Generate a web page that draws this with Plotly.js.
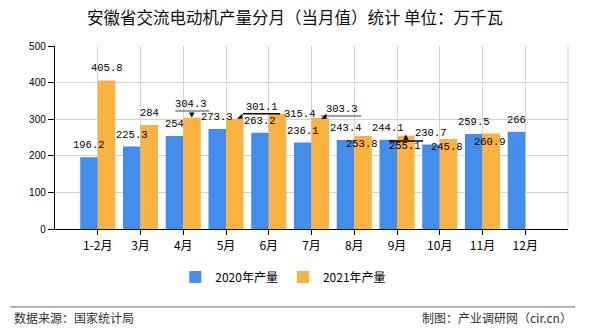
<!DOCTYPE html>
<html>
<head>
<meta charset="utf-8">
<script src="https://cdn.plot.ly/plotly-3.0.1.min.js"></script>
<style>html,body{margin:0;padding:0;background:#fff;}#chart{width:590px;height:330px;}</style>
</head>
<body>
<div id="chart"></div>
<script>
// ---- data ----
const categories = ['1-2月','3月','4月','5月','6月','7月','8月','9月','10月','11月','12月'];
const values2020 = [196.2, 225.3, 254, 273.3, 263.2, 236.1, 243.4, 244.1, 230.7, 259.5, 266];
const values2021 = [405.8, 284, 304.3, 301.1, 315.4, 303.3, 253.8, 255.1, 245.8, 260.9, null];
const seriesNames = ['2020年产量', '2021年产量'];
const yTicks = [0, 100, 200, 300, 400, 500];

// ---- styling / label placement (pixels) ----
const blue = '#438EEC', orange = '#FBB240';
const labelFont = {family: 'Liberation Mono, monospace', size: 10.5, color: '#000'};
const shift2020 = {};
const shift2021 = {2:[7.75,14], 3:[36,12], 4:[31.25,0], 5:[30.5,9], 6:[7.75,-8], 7:[8,-10.5], 8:[7.25,-8], 9:[7.5,-8]};
const callouts = [
  {i:2, x0:-8,  x1:26,   dy:6.6,  color:'#808080', tri:'▼', tx:9,    ty:2.6},
  {i:3, x0:17,  x1:54,   dy:5,    color:'#000',    tri:'◢', tx:14,   ty:3},
  {i:5, x0:9.5, x1:49.5, dy:2,    color:'#808080', tri:'◢', tx:12.5, ty:1.5},
  {i:7, x0:-8,  x1:26,   dy:-5.4, color:'#000',    tri:'▲', tx:9,    ty:-1.8}
];

const traces = [
  {type:'bar', name:seriesNames[0], x:categories, y:values2020, marker:{color:blue}, hoverinfo:'skip'},
  {type:'bar', name:seriesNames[1], x:categories, y:values2021, marker:{color:orange}, hoverinfo:'skip'}
];

const annotations = [];
values2020.forEach((v, i) => {
  if (v == null) return;
  const s = shift2020[i] || [-8.75, 12];
  annotations.push({x:categories[i], y:v, xref:'x', yref:'y', text:String(v), showarrow:false,
    xshift:s[0], yshift:s[1], xanchor:'center', yanchor:'middle', font:labelFont});
});
values2021.forEach((v, i) => {
  if (v == null) return;
  const s = shift2021[i] || [8.75, 12];
  annotations.push({x:categories[i], y:v, xref:'x', yref:'y', text:String(v), showarrow:false,
    xshift:s[0], yshift:s[1], xanchor:'center', yanchor:'middle', font:labelFont});
});

const shapes = [];
callouts.forEach(c => {
  shapes.push({type:'line', xref:'x', yref:'y', xsizemode:'pixel', ysizemode:'pixel',
    xanchor:categories[c.i], yanchor:values2021[c.i], x0:c.x0, x1:c.x1, y0:c.dy, y1:c.dy,
    line:{color:c.color, width:1.5}});
  annotations.push({x:categories[c.i], y:values2021[c.i], xref:'x', yref:'y', text:c.tri, showarrow:false,
    xshift:c.tx, yshift:c.ty, xanchor:'center', yanchor:'middle',
    font:{family:'DejaVu Sans', size:7, color:'#000'}});
});

// right border of plot (grid colour) and footer separator
shapes.push({type:'line', xref:'paper', yref:'paper', x0:1, x1:1, y0:0, y1:1, line:{color:'#d3d3d3', width:1}});
shapes.push({type:'line', xref:'paper', yref:'paper', x0:-0.0877, x1:1.0136, y0:-0.426, y1:-0.426, line:{color:'#888', width:1.2}});

annotations.push({xref:'paper', yref:'paper', x:-0.0838, y:-0.481, xanchor:'left', yanchor:'middle',
  text:'数据来源：国家统计局', showarrow:false, font:{family:'Noto Sans CJK SC', size:12, color:'#333'}});
annotations.push({xref:'paper', yref:'paper', x:1.0117, y:-0.481, xanchor:'right', yanchor:'middle',
  text:'制图：产业调研网（cir.cn）', showarrow:false, font:{family:'Noto Sans CJK SC', size:12, color:'#333'}});

const layout = {
  width:590, height:330,
  margin:{l:55, r:22, t:46, b:101},
  paper_bgcolor:'#fff', plot_bgcolor:'#fff',
  font:{family:'Noto Sans CJK SC', color:'#000'},
  title:{text:'安徽省交流电动机产量分月（当月值）统计 单位：万千瓦', x:0.5, xref:'container', y:0.945, yref:'container',
    xanchor:'center', yanchor:'middle', font:{family:'Noto Sans CJK SC', size:16.5, color:'#111'}},
  barmode:'group', bargap:0.18, bargroupgap:0,
  xaxis:{type:'category', range:[-1, categories.length], showgrid:true, gridcolor:'#d3d3d3', gridwidth:1,
    showline:true, linecolor:'#000', linewidth:1.2, ticks:'outside', ticklen:5, tickcolor:'#000',
    tickfont:{family:'Noto Sans CJK SC', size:12, color:'#000'}, fixedrange:true, zeroline:false},
  yaxis:{range:[0, 500], tickvals:yTicks, showgrid:true, gridcolor:'#d3d3d3', gridwidth:1,
    showline:true, linecolor:'#000', linewidth:1.2, ticks:'outside', ticklen:6, tickcolor:'#000',
    tickfont:{family:'Liberation Sans, Arial', size:10, color:'#000'}, zeroline:false, fixedrange:true},
  legend:{orientation:'h', x:0.445, xanchor:'center', y:-0.262, yanchor:'middle',
    font:{family:'Noto Sans CJK SC', size:12, color:'#000'}, itemwidth:30},
  showlegend:true,
  annotations:annotations,
  shapes:shapes
};

Plotly.newPlot('chart', traces, layout, {displayModeBar:false, staticPlot:true});
</script>
</body>
</html>
